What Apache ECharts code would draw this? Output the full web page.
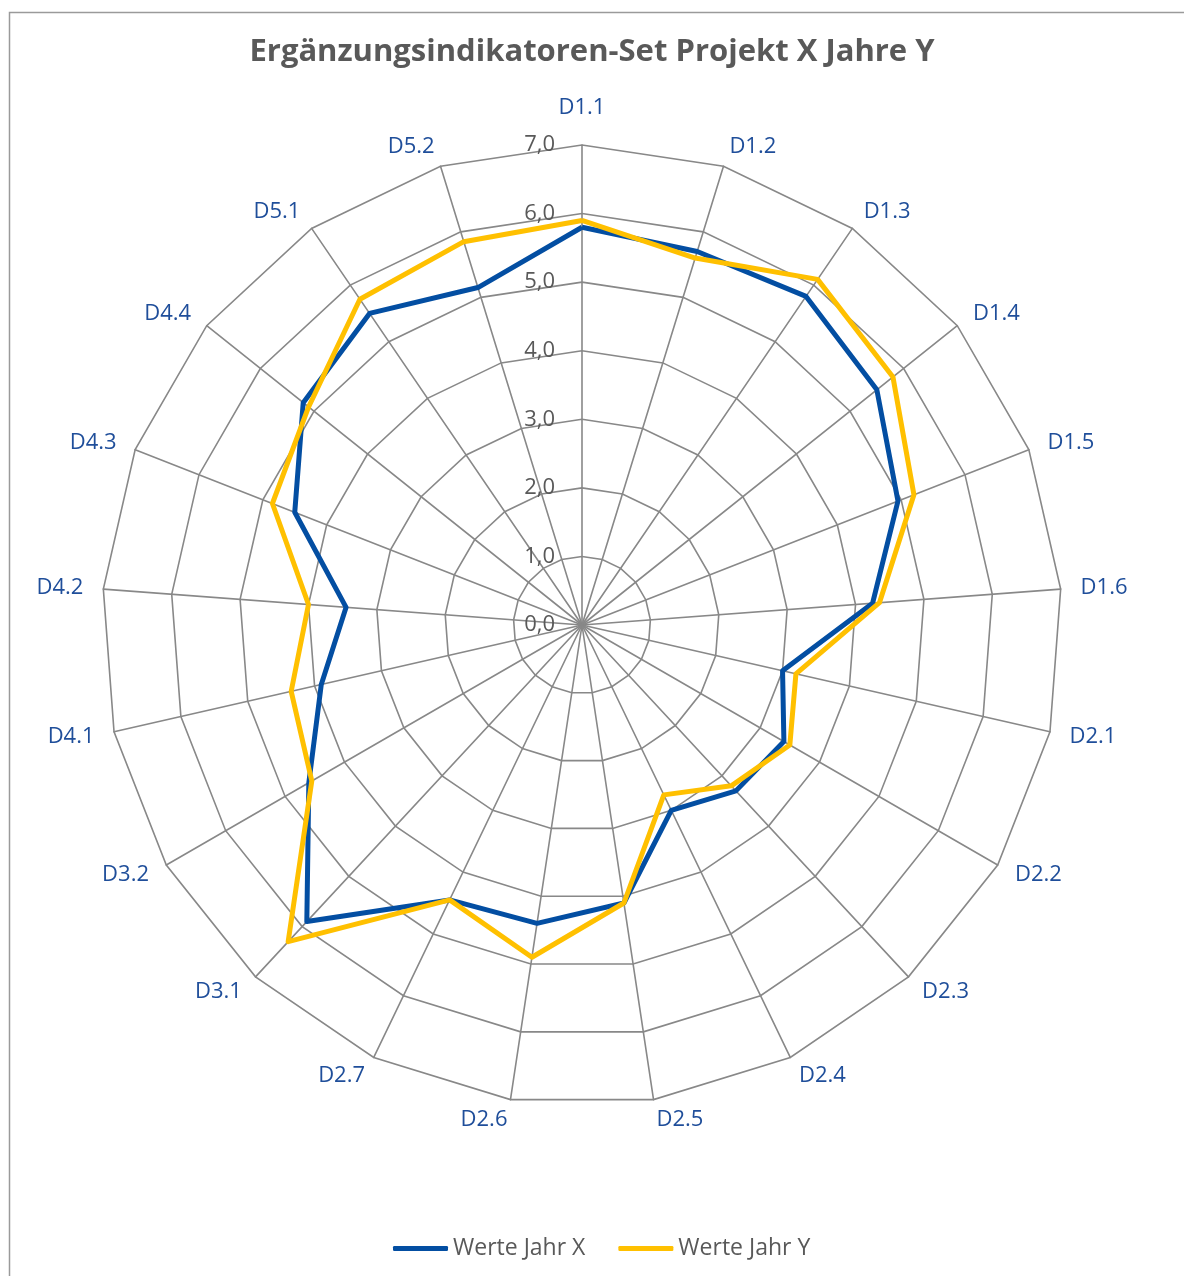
<!DOCTYPE html>
<html>
<head>
<meta charset="utf-8">
<title>Ergänzungsindikatoren-Set</title>
<script src="https://cdn.jsdelivr.net/npm/echarts@6/dist/echarts.min.js"></script>
<style>
  html, body { margin: 0; padding: 0; background: #fff; }
  #chart { width: 1184px; height: 1276px; }
</style>
</head>
<body>
<div id="chart"></div>
<script>
// Indikatoren (im Uhrzeigersinn ab oben)
const categories = ['D1.1', 'D1.2', 'D1.3', 'D1.4', 'D1.5', 'D1.6', 'D2.1', 'D2.2', 'D2.3', 'D2.4', 'D2.5',
  'D2.6', 'D2.7', 'D3.1', 'D3.2', 'D4.1', 'D4.2', 'D4.3', 'D4.4', 'D5.1', 'D5.2'];
const werteJahrX = [5.8, 5.7, 5.8, 5.5, 4.95, 4.25, 3.0, 3.4, 3.3, 3.0, 4.1, 4.4, 4.45, 5.9, 4.6, 3.9, 3.45, 4.5, 5.2, 5.5, 5.15];
const werteJahrY = [5.9, 5.6, 6.1, 5.8, 5.2, 4.35, 3.2, 3.5, 3.2, 2.75, 4.1, 4.9, 4.45, 6.3, 4.55, 4.35, 4.0, 4.85, 5.1, 5.75, 5.85];
const seriesNames = ['Werte Jahr X', 'Werte Jahr Y'];
const axisMax = 7;

const font = '"Open Sans", "Noto Sans", sans-serif';
const gridColor = '#888888';

// echarts radar laeuft gegen den Uhrzeigersinn -> Reihenfolge umdrehen (erstes bleibt oben)
const order = [0].concat(categories.map((c, i) => i).slice(1).reverse());
const reorder = arr => order.map(i => arr[i]);

const indicator = reorder(categories).map((name, i) => {
  const ind = { name: name, min: 0, max: axisMax };
  if (i === 0) {
    // Skala nur an der senkrechten Achse
    ind.axisLabel = {
      show: true,
      color: '#595959',
      fontSize: 22,
      fontFamily: font,
      margin: 27,
      formatter: v => v.toFixed(1).replace('.', ',')
    };
    ind.nameGap = 26;
  }
  return ind;
});

const chart = echarts.init(document.getElementById('chart'));
chart.setOption({
  animation: false,
  title: {
    text: 'Ergänzungsindikatoren-Set Projekt X Jahre Y',
    left: 'center',
    top: 32,
    textStyle: { color: '#595959', fontSize: 31, fontWeight: 'bold', fontFamily: font }
  },
  legend: {
    left: 388,
    top: 1232,
    icon: 'roundRect',
    itemWidth: 55,
    itemHeight: 5,
    itemGap: 33,
    textStyle: { color: '#595959', fontSize: 23, fontFamily: font },
    data: seriesNames
  },
  graphic: [{
    type: 'rect',
    shape: { x: 9.5, y: 12.5, width: 1400, height: 1400 },
    style: { fill: 'none', stroke: '#9a9a9a', lineWidth: 1.5 },
    silent: true
  }],
  radar: {
    center: [582, 625],
    radius: 480,
    startAngle: 90,
    splitNumber: 7,
    shape: 'polygon',
    nameGap: 20,
    axisName: { color: '#1F4E9A', fontSize: 22, fontFamily: font },
    splitLine: { lineStyle: { color: gridColor, width: 1.6 } },
    splitArea: { show: false },
    axisLine: { lineStyle: { color: gridColor, width: 1.6 } },
    axisLabel: { show: false },
    indicator: indicator
  },
  series: [{
    type: 'radar',
    symbol: 'none',
    data: [
      {
        name: seriesNames[0],
        value: reorder(werteJahrX),
        lineStyle: { color: '#034EA2', width: 5 },
        itemStyle: { color: '#034EA2' }
      },
      {
        name: seriesNames[1],
        value: reorder(werteJahrY),
        lineStyle: { color: '#FFC000', width: 5 },
        itemStyle: { color: '#FFC000' }
      }
    ]
  }]
});
</script>
</body>
</html>
